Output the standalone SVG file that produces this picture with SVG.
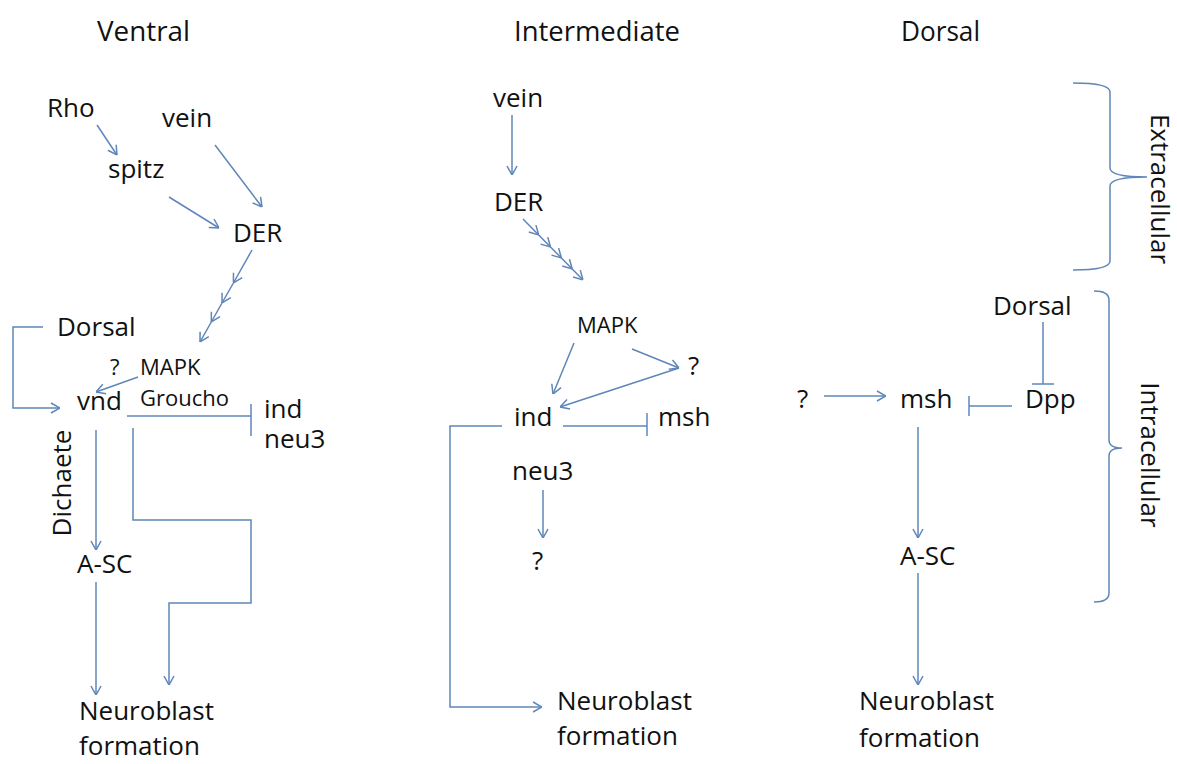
<svg xmlns="http://www.w3.org/2000/svg" width="1177" height="764" viewBox="0 0 1177 764">
<style>
text{font-family:"Open Sans","Noto Sans","Liberation Sans",sans-serif;font-size:26px;fill:#111}
.sm{font-size:22px}
.hd{font-size:28px}
.c{fill:none;stroke:#5f86b8;stroke-width:1.5}
</style>
<defs>
<marker id="ar" viewBox="0 0 10 12" refX="10" refY="6" markerWidth="10" markerHeight="12" markerUnits="userSpaceOnUse" orient="auto">
<path d="M1,1 L10,6 L1,11" fill="none" stroke="#5f86b8" stroke-width="1.5"/>
</marker>
</defs>
<rect width="1177" height="764" fill="#fff"/>
<g id="headers">
<text class="hd" x="97" y="41" textLength="93" lengthAdjust="spacingAndGlyphs">Ventral</text>
<text class="hd" x="514" y="41" textLength="166" lengthAdjust="spacingAndGlyphs">Intermediate</text>
<text class="hd" x="901" y="41" textLength="79" lengthAdjust="spacingAndGlyphs">Dorsal</text>
</g>
<g id="connectors">
<!-- Ventral -->
<line class="c" x1="97" y1="125" x2="117" y2="155" marker-end="url(#ar)"/>
<line class="c" x1="215" y1="145" x2="262" y2="207" marker-end="url(#ar)"/>
<line class="c" x1="169" y1="197" x2="219" y2="228" marker-end="url(#ar)"/>
<polyline class="c" points="252,250 233.4,283 222,303 211.3,322 200,342" marker-mid="url(#ar)" marker-end="url(#ar)"/>
<polyline class="c" points="43,327 13,327 13,408 60,408" marker-end="url(#ar)"/>
<line class="c" x1="138" y1="377" x2="96" y2="392" marker-end="url(#ar)"/>
<line class="c" x1="127" y1="416" x2="251" y2="416"/>
<line class="c" x1="251" y1="404" x2="251" y2="436"/>
<line class="c" x1="96" y1="430" x2="96" y2="550" marker-end="url(#ar)"/>
<polyline class="c" points="133,428 133,520 251,520 251,603 169,603 169,685" marker-end="url(#ar)"/>
<line class="c" x1="96" y1="582" x2="96" y2="695" marker-end="url(#ar)"/>
<!-- Intermediate -->
<line class="c" x1="512" y1="115" x2="512" y2="175" marker-end="url(#ar)"/>
<polyline class="c" points="523,219 538.7,235 550.5,247 561.4,258 572.2,269 583,280" marker-mid="url(#ar)" marker-end="url(#ar)"/>
<line class="c" x1="574" y1="343" x2="553" y2="394" marker-end="url(#ar)"/>
<line class="c" x1="632" y1="349" x2="679" y2="368" marker-end="url(#ar)"/>
<line class="c" x1="679" y1="368" x2="560" y2="407" marker-end="url(#ar)"/>
<line class="c" x1="563" y1="426" x2="647" y2="426"/>
<line class="c" x1="647" y1="413" x2="647" y2="436"/>
<polyline class="c" points="502,426 450,426 450,707 542,707" marker-end="url(#ar)"/>
<line class="c" x1="543" y1="490" x2="543" y2="538" marker-end="url(#ar)"/>
<!-- Dorsal -->
<line class="c" x1="1043" y1="322" x2="1043" y2="384"/>
<line class="c" x1="1032" y1="384" x2="1054" y2="384"/>
<line class="c" x1="1012" y1="406" x2="969" y2="406"/>
<line class="c" x1="969" y1="396" x2="969" y2="416"/>
<line class="c" x1="824" y1="396" x2="886" y2="396" marker-end="url(#ar)"/>
<line class="c" x1="918" y1="427" x2="918" y2="538" marker-end="url(#ar)"/>
<line class="c" x1="918" y1="573" x2="918" y2="685" marker-end="url(#ar)"/>
<!-- braces -->
<path class="c" d="M1073,83 Q1110,83 1110,92 L1110,168 Q1110,177 1147,177 Q1110,177 1110,186 L1110,261 Q1110,270 1073,270"/>
<path class="c" d="M1094,291 Q1109,291 1109,300 L1109,440 Q1109,448 1122,448 Q1109,448 1109,456 L1109,593 Q1109,602 1094,602"/>
</g>
<g id="v-rho"><text x="47" y="117">Rho</text></g>
<g id="v-vein"><text x="162" y="127">vein</text></g>
<g id="v-spitz"><text x="108" y="178">spitz</text></g>
<g id="v-der"><text x="233" y="242">DER</text></g>
<g id="v-dorsal"><text x="57" y="336">Dorsal</text></g>
<g id="v-q"><text class="sm" x="110" y="375">?</text></g>
<g id="v-mapk"><text class="sm" x="140" y="375">MAPK</text></g>
<g id="v-vnd"><text x="77" y="410">vnd</text></g>
<g id="v-groucho"><text class="sm" x="140" y="406">Groucho</text></g>
<g id="v-ind-neu3"><text x="264" y="418">ind<tspan x="264" dy="30">neu3</tspan></text></g>
<g id="v-dichaete"><text transform="translate(71,483) rotate(-90)" text-anchor="middle">Dichaete</text></g>
<g id="v-asc"><text x="77" y="573">A-SC</text></g>
<g id="v-nb"><text x="79" y="720">Neuroblast</text><text x="79" y="755">formation</text></g>
<g id="i-vein"><text x="493" y="107">vein</text></g>
<g id="i-der"><text x="494" y="211">DER</text></g>
<g id="i-mapk"><text class="sm" x="577" y="333">MAPK</text></g>
<g id="i-q1"><text x="688" y="375">?</text></g>
<g id="i-ind"><text x="514" y="426">ind</text></g>
<g id="i-msh"><text x="658" y="426">msh</text></g>
<g id="i-neu3"><text x="512" y="480">neu3</text></g>
<g id="i-q2"><text x="532" y="570">?</text></g>
<g id="i-nb"><text x="557" y="710">Neuroblast</text><text x="557" y="745">formation</text></g>
<g id="d-dorsal"><text x="993" y="315">Dorsal</text></g>
<g id="d-q"><text x="797" y="408">?</text></g>
<g id="d-msh"><text x="900" y="408">msh</text></g>
<g id="d-dpp"><text x="1025" y="408">Dpp</text></g>
<g id="d-asc"><text x="900" y="565">A-SC</text></g>
<g id="d-nb"><text x="859" y="710">Neuroblast</text><text x="859" y="747">formation</text></g>
<g id="extracellular"><text transform="translate(1151,189) rotate(90)" text-anchor="middle">Extracellular</text></g>
<g id="intracellular"><text transform="translate(1141,455) rotate(90)" text-anchor="middle">Intracellular</text></g>
</svg>
